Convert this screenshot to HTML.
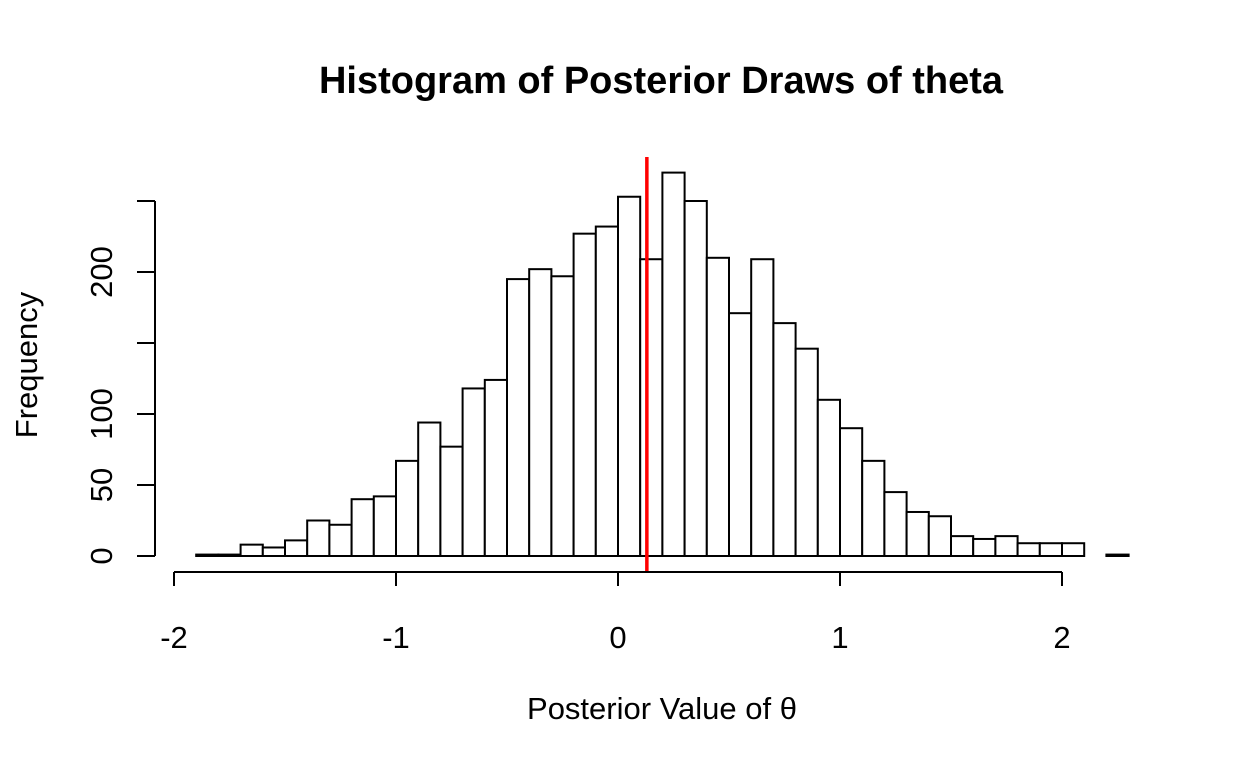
<!DOCTYPE html>
<html><head><meta charset="utf-8"><style>
body{margin:0;background:#fff;}
svg text{font-family:"Liberation Sans",Arial,sans-serif;fill:#000;}
</style></head><body>
<svg id="chart" width="1248" height="768">
<text x="661" y="93" font-size="38" font-weight="bold" text-anchor="middle">Histogram of Posterior Draws of theta</text>
<text x="662" y="719" font-size="31" text-anchor="middle">Posterior Value of θ</text>
<text transform="translate(37,365) rotate(-90)" font-size="31" text-anchor="middle">Frequency</text>
<g id="bars"></g>
<g id="axes"></g>
</svg>
<script>
const binStart = -1.9;
const binWidth = 0.1;
const counts = [1,1,8,6,11,25,22,40,42,67,94,77,118,124,195,202,197,227,232,253,209,270,250,210,171,209,164,146,110,90,67,45,31,28,14,12,14,9,9,9,0,1];
const xTicks = [-2,-1,0,1,2];
const yTicks = [0,50,100,150,200,250];
const yTickLabels = ["0","50","100","","200",""];
const posteriorMean = 0.13;

const NS="http://www.w3.org/2000/svg";
const xs = v => 618 + (v)*222;
const ys = v => 556 - v*1.42;
const bars=document.getElementById('bars');
const axes=document.getElementById('axes');
function mk(tag,attrs,parent){const e=document.createElementNS(NS,tag);for(const k in attrs)e.setAttribute(k,attrs[k]);parent.appendChild(e);return e;}
counts.forEach((c,i)=>{
  const x0=xs(binStart+i*binWidth), x1=xs(binStart+(i+1)*binWidth);
  const r=mk('rect',{x:x0,y:ys(c),width:x1-x0,height:ys(0)-ys(c),fill:'#fff',stroke:'#000','stroke-width':2},bars);
  
  
});
const ml=mk('line',{x1:xs(posteriorMean),x2:xs(posteriorMean),y1:157,y2:572,stroke:'#ff0000','stroke-width':3.5},axes);


const xa=mk('line',{x1:xs(xTicks[0]),x2:xs(xTicks[xTicks.length-1]),y1:572,y2:572,stroke:'#000','stroke-width':2},axes);


xTicks.forEach(t=>{
  mk('line',{x1:xs(t),x2:xs(t),y1:572,y2:586,stroke:'#000','stroke-width':2},axes);
  const tx=mk('text',{x:xs(t),y:648,'font-size':31,'text-anchor':'middle'},axes);
  tx.textContent=String(t);
  
  
});
const ya=mk('line',{x1:155,x2:155,y1:ys(yTicks[0]),y2:ys(yTicks[yTicks.length-1]),stroke:'#000','stroke-width':2},axes);


yTicks.forEach((t,i)=>{
  mk('line',{x1:137,x2:155,y1:ys(t),y2:ys(t),stroke:'#000','stroke-width':2},axes);
  if(yTickLabels[i]){
    const tx=mk('text',{transform:`translate(112,${ys(t)}) rotate(-90)`,'font-size':31,'text-anchor':'middle'},axes);
    tx.textContent=yTickLabels[i];
    
    
  }
});
</script>
</body></html>
